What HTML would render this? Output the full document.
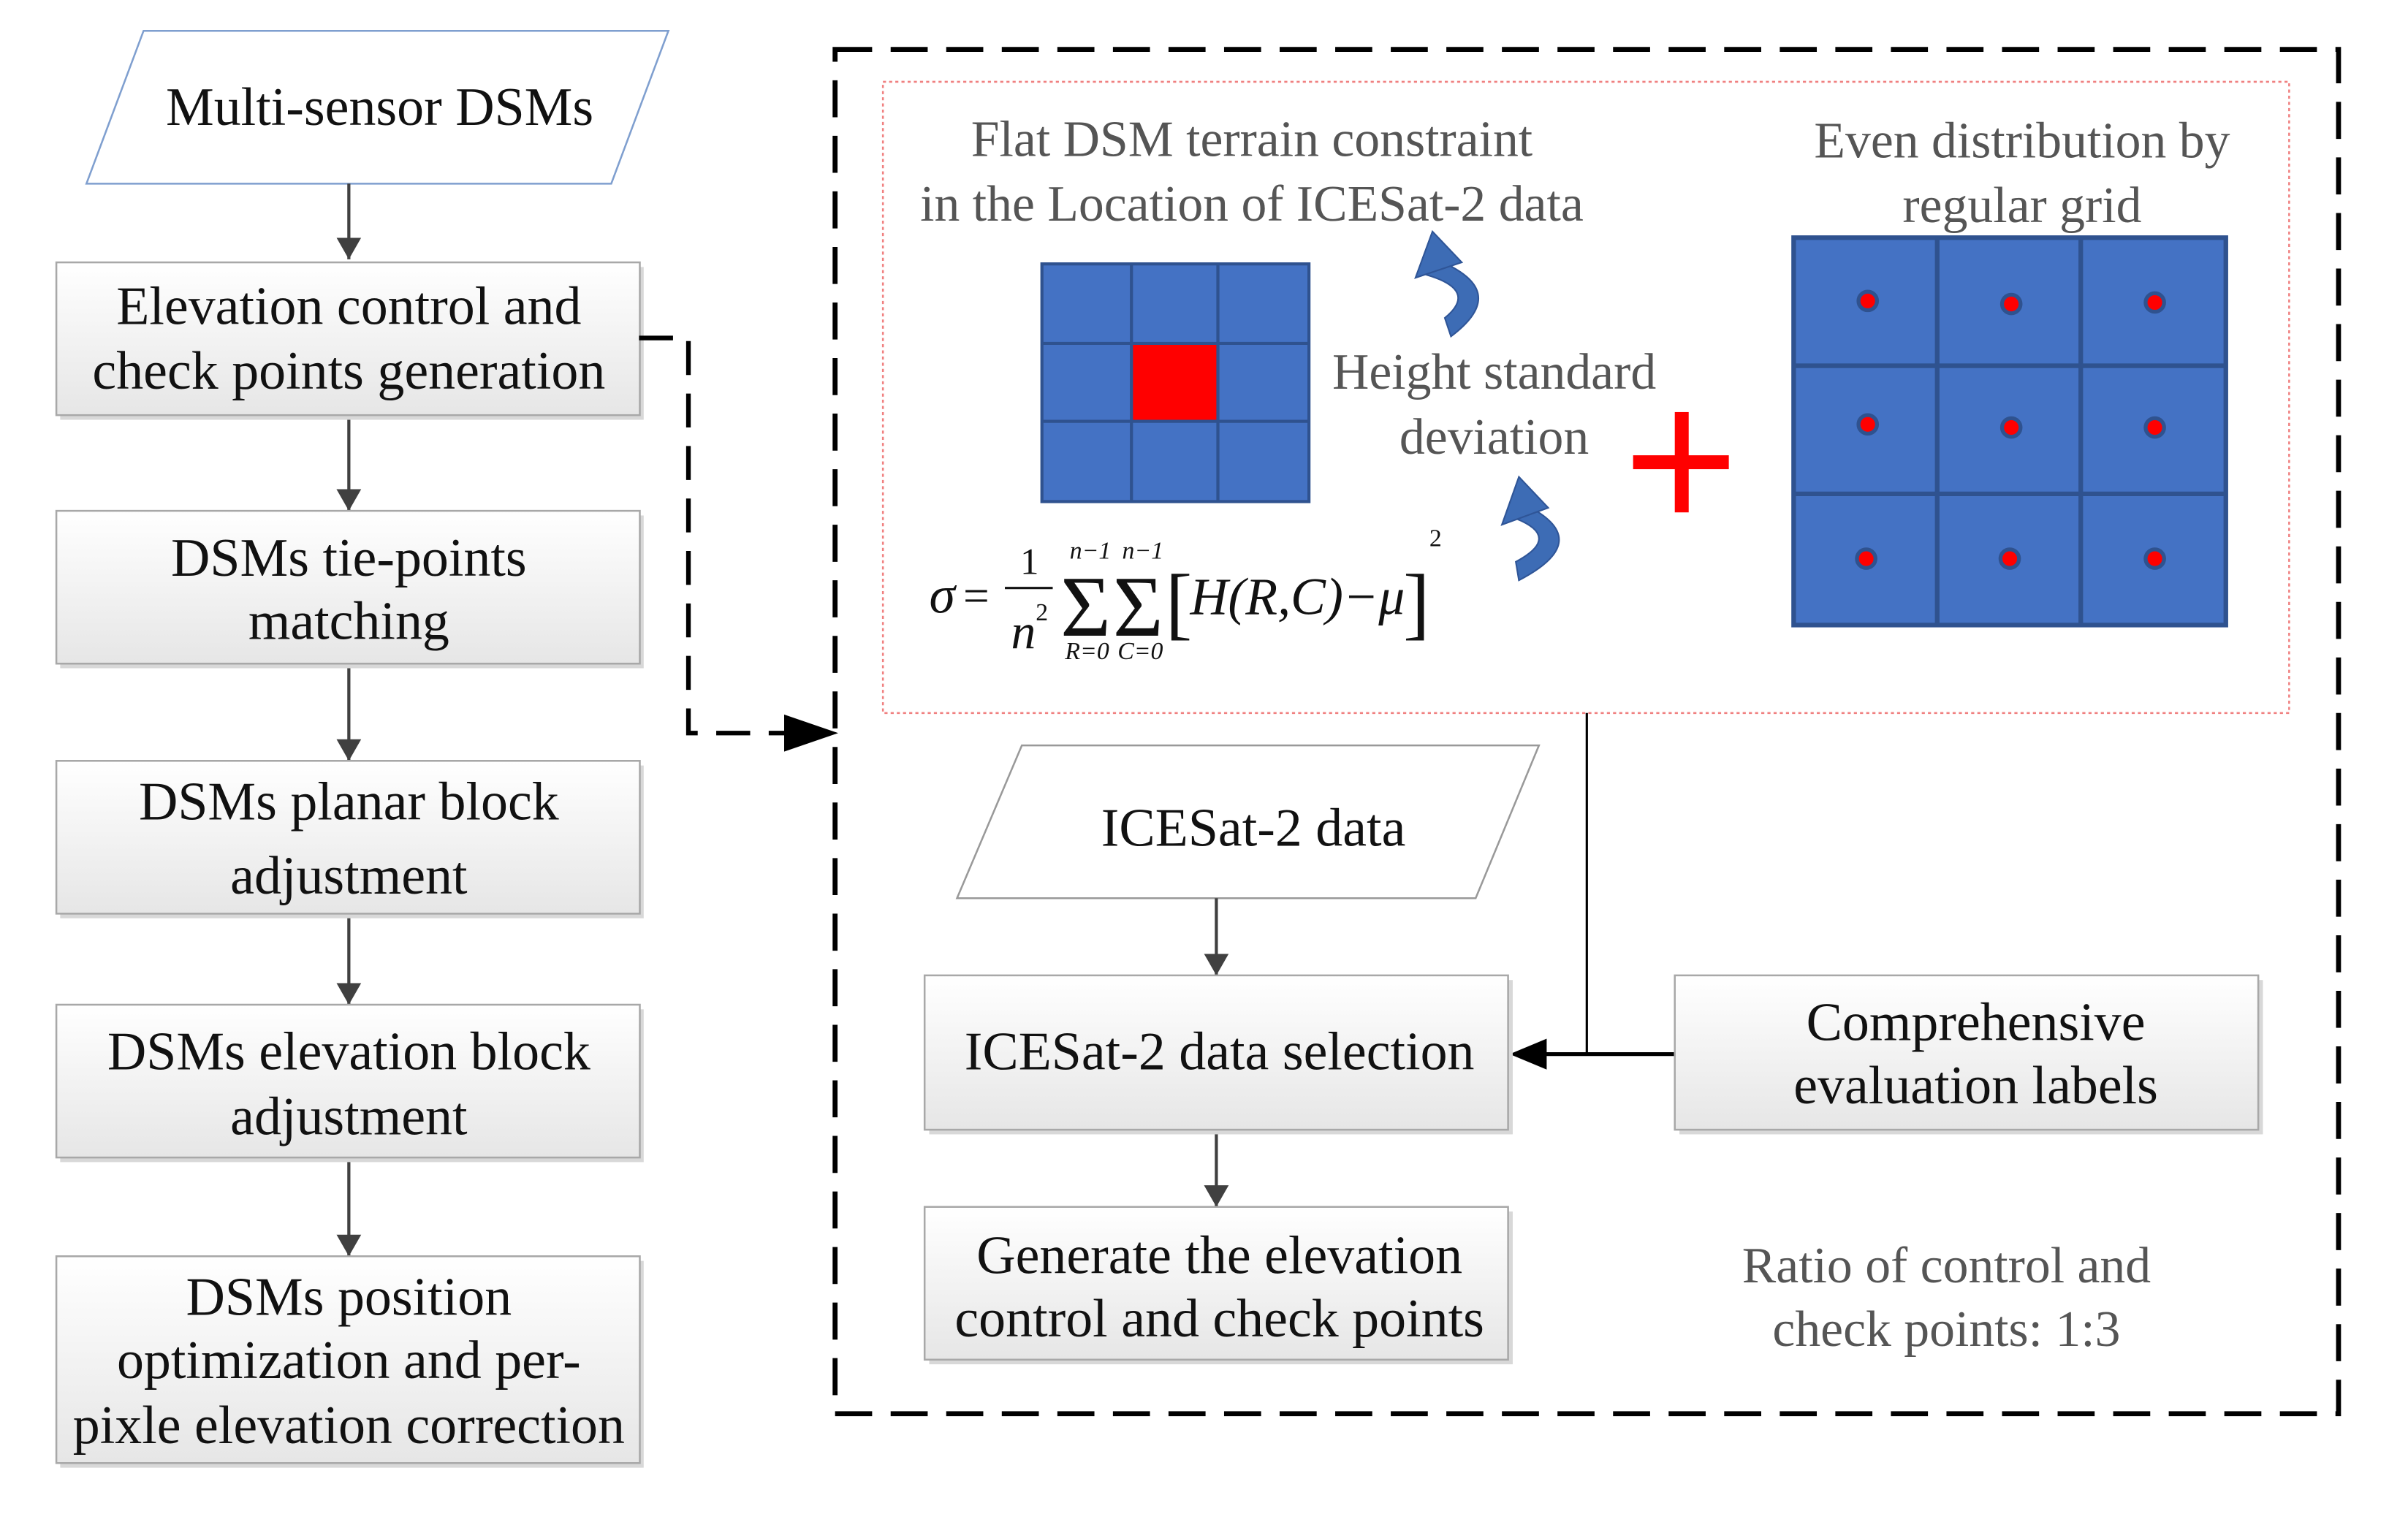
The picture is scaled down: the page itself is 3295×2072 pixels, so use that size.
<!DOCTYPE html>
<html><head><meta charset="utf-8"><style>
html,body{margin:0;padding:0;background:#fff;}
svg{display:block;}
text{font-family:"Liberation Serif",serif;}
</style></head><body>
<svg width="3295" height="2072" viewBox="0 0 1560 981" preserveAspectRatio="none" xmlns="http://www.w3.org/2000/svg">
<defs>
<linearGradient id="g" x1="0" y1="0" x2="0" y2="1"><stop offset="0" stop-color="#ffffff"/><stop offset="1" stop-color="#e6e6e6"/></linearGradient>
<marker id="ah" markerWidth="14" markerHeight="16" refX="14" refY="8" orient="auto" markerUnits="userSpaceOnUse"><path d="M0,0 L14,8 L0,16 z" fill="#404040"/></marker>
</defs>
<rect width="1560" height="981" fill="#fff"/>

<!-- Left column -->
<polygon points="93,20 433,20 396,119 56,119" fill="#fff" stroke="#7f9fcf" stroke-width="1.2"/>
<text x="246" y="81" font-size="35" text-anchor="middle" fill="#111">Multi-sensor  DSMs</text>

<g stroke="#404040" stroke-width="2" fill="none">
<line x1="226" y1="119" x2="226" y2="168" marker-end="url(#ah)"/>
<line x1="226" y1="269" x2="226" y2="331" marker-end="url(#ah)"/>
<line x1="226" y1="430" x2="226" y2="493" marker-end="url(#ah)"/>
<line x1="226" y1="592" x2="226" y2="651" marker-end="url(#ah)"/>
<line x1="226" y1="750" x2="226" y2="814" marker-end="url(#ah)"/>
</g>

<g stroke="#a8a8a8" stroke-width="1.2">
<rect x="39" y="173" width="378" height="99" fill="#d8d8d8" stroke="none"/>
<rect x="36.5" y="170" width="378" height="99" fill="url(#g)"/>
<rect x="39" y="334" width="378" height="99" fill="#d8d8d8" stroke="none"/>
<rect x="36.5" y="331" width="378" height="99" fill="url(#g)"/>
<rect x="39" y="496" width="378" height="99" fill="#d8d8d8" stroke="none"/>
<rect x="36.5" y="493" width="378" height="99" fill="url(#g)"/>
<rect x="39" y="654" width="378" height="99" fill="#d8d8d8" stroke="none"/>
<rect x="36.5" y="651" width="378" height="99" fill="url(#g)"/>
<rect x="39" y="817" width="378" height="134" fill="#d8d8d8" stroke="none"/>
<rect x="36.5" y="814" width="378" height="134" fill="url(#g)"/>
</g>
<g font-size="35" text-anchor="middle" fill="#111">
<text x="226" y="210">Elevation control and</text>
<text x="226" y="252">check points generation</text>
<text x="226" y="373">DSMs tie-points</text>
<text x="226" y="414">matching</text>
<text x="226" y="531">DSMs planar block</text>
<text x="226" y="579">adjustment</text>
<text x="226" y="693">DSMs elevation block</text>
<text x="226" y="735">adjustment</text>
<text x="226" y="852">DSMs position</text>
<text x="226" y="893">optimization and per-</text>
<text x="226" y="935">pixle elevation correction</text>
</g>

<!-- dashed connector -->
<path d="M414,219 L446,219 L446,475 L515,475" fill="none" stroke="#000" stroke-width="3" stroke-dasharray="22,12"/>
<path d="M508,463 L543,475 L508,487 z" fill="#000"/>

<!-- outer dashed box -->
<rect x="541" y="32" width="974" height="884" fill="none" stroke="#000" stroke-width="3.2" stroke-dasharray="24,12"/>

<!-- pink dotted box -->
<rect x="572" y="53" width="911" height="409" fill="none" stroke="#f08080" stroke-width="1.2" stroke-dasharray="2,2"/>

<g font-size="33" text-anchor="middle" fill="#555">
<text x="811" y="101">Flat DSM terrain constraint</text>
<text x="811" y="143">in the Location of  ICESat-2 data</text>
<text x="1310" y="102">Even distribution by</text>
<text x="1310" y="144">regular grid</text>
<text x="968" y="252">Height standard</text>
<text x="968" y="294">deviation</text>
</g>

<!-- left grid -->
<rect x="675" y="171" width="173" height="154" fill="#4472c4" stroke="#2f528f" stroke-width="2"/>
<rect x="733" y="223" width="56" height="50" fill="#ff0000"/>
<g stroke="#2f528f" stroke-width="2">
<line x1="733" y1="171" x2="733" y2="325"/><line x1="789" y1="171" x2="789" y2="325"/>
<line x1="675" y1="222.5" x2="848" y2="222.5"/><line x1="675" y1="273" x2="848" y2="273"/>
</g>

<!-- right grid -->
<rect x="1162" y="154" width="280" height="251" fill="#4472c4" stroke="#2f528f" stroke-width="3"/>
<g stroke="#2f528f" stroke-width="3">
<line x1="1255" y1="154" x2="1255" y2="405"/><line x1="1348" y1="154" x2="1348" y2="405"/>
<line x1="1162" y1="237" x2="1442" y2="237"/><line x1="1162" y1="320" x2="1442" y2="320"/>
</g>
<g fill="#ff0000" stroke="#2f528f" stroke-width="2.5">
<circle cx="1210" cy="195" r="6"/><circle cx="1303" cy="197" r="6"/><circle cx="1396" cy="196" r="6"/>
<circle cx="1210" cy="275" r="6"/><circle cx="1303" cy="277" r="6"/><circle cx="1396" cy="277" r="6"/>
<circle cx="1209" cy="362" r="6"/><circle cx="1302" cy="362" r="6"/><circle cx="1396" cy="362" r="6"/>
</g>

<!-- red plus -->
<rect x="1058" y="295" width="62" height="9" fill="#ff0000"/>
<rect x="1085" y="267" width="9" height="65" fill="#ff0000"/>

<!-- curved blue arrows -->
<g fill="#3d6cb5" stroke="#2f5597" stroke-width="1">
<path d="M930,168 Q980,188 940,218 L936,206 Q958,188 924,178 z"/>
<path d="M928,150 L917,180 L947,170 z"/>
<path d="M988,327 Q1034,350 984,376 L982,364 Q1012,348 982,336 z"/>
<path d="M984,309 L973,340 L1003,329 z"/>
</g>

<!-- formula -->
<g fill="#111" font-style="italic">
<text x="602" y="397" font-size="34">σ</text>
<text x="624" y="396" font-size="30" font-style="normal">=</text>
<text x="661" y="372" font-size="24" font-style="normal">1</text>
<line x1="651" y1="381" x2="682" y2="381" stroke="#111" stroke-width="1.5"/>
<text x="655" y="420" font-size="32">n</text>
<text x="671" y="402" font-size="16" font-style="normal">2</text>
<text x="687" y="412" font-size="56" font-style="normal">Σ</text>
<text x="721" y="412" font-size="56" font-style="normal">Σ</text>
<text x="693" y="362" font-size="16">n−1</text>
<text x="727" y="362" font-size="16">n−1</text>
<text x="690" y="427" font-size="16">R=0</text>
<text x="724" y="427" font-size="16">C=0</text>
<text x="755" y="408" font-size="52" font-style="normal">[</text>
<text x="771" y="398" font-size="34">H(R,C)−μ</text>
<text x="909" y="408" font-size="52" font-style="normal">]</text>
<text x="926" y="354" font-size="16" font-style="normal">2</text>
</g>

<!-- lower right flow -->
<polygon points="662,483 997,483 956,582 620,582" fill="#fff" stroke="#999" stroke-width="1.2"/>
<text x="812" y="548" font-size="35" text-anchor="middle" fill="#111">ICESat-2 data</text>

<g stroke="#404040" stroke-width="2" fill="none">
<line x1="788" y1="582" x2="788" y2="632" marker-end="url(#ah)"/>
<line x1="788" y1="732" x2="788" y2="782" marker-end="url(#ah)"/>
</g>
<line x1="1028" y1="462" x2="1028" y2="683" stroke="#000" stroke-width="1.5"/>
<line x1="1085" y1="683" x2="995" y2="683" stroke="#000" stroke-width="2.5"/>
<path d="M978,683 L1002,673 L1002,693 z" fill="#000"/>

<g stroke="#a8a8a8" stroke-width="1.2">
<rect x="602" y="635" width="378" height="100" fill="#d8d8d8" stroke="none"/>
<rect x="599" y="632" width="378" height="100" fill="url(#g)"/>
<rect x="1088" y="635" width="378" height="100" fill="#d8d8d8" stroke="none"/>
<rect x="1085" y="632" width="378" height="100" fill="url(#g)"/>
<rect x="602" y="785" width="378" height="99" fill="#d8d8d8" stroke="none"/>
<rect x="599" y="782" width="378" height="99" fill="url(#g)"/>
</g>
<g font-size="35" text-anchor="middle" fill="#111">
<text x="790" y="693">ICESat-2 data selection</text>
<text x="1280" y="674">Comprehensive</text>
<text x="1280" y="715">evaluation labels</text>
<text x="790" y="825">Generate the elevation</text>
<text x="790" y="866">control and check points</text>
</g>
<g font-size="33" text-anchor="middle" fill="#555">
<text x="1261" y="831">Ratio of control and</text>
<text x="1261" y="872">check points: 1:3</text>
</g>
</svg>
</body></html>
